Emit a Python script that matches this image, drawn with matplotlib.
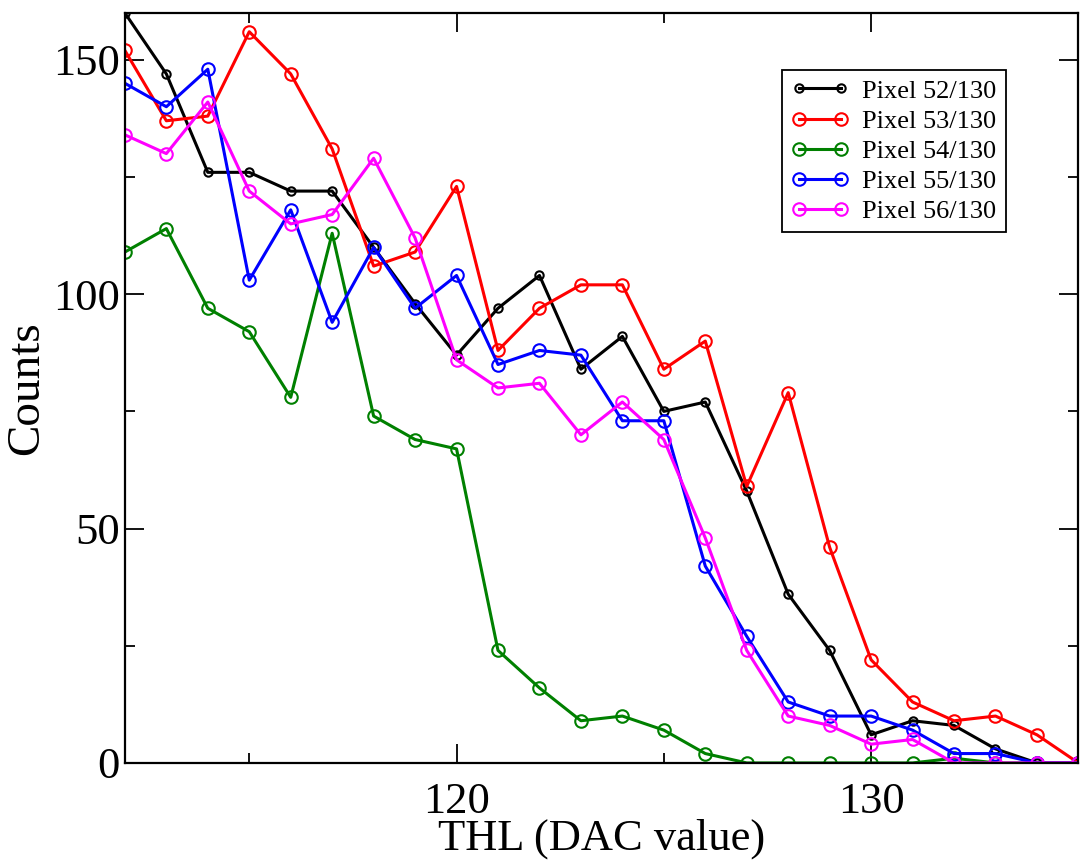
import numpy as np
import matplotlib
matplotlib.use("Agg")
import matplotlib.pyplot as plt
from matplotlib.ticker import MultipleLocator

# THL scan, one count per DAC step
thl = list(range(112, 136))

pix52 = [160, 147, 126, 126, 122, 122, 110, 98, 87, 97, 104, 84,
         91, 75, 77, 58, 36, 24, 6, 9, 8, 3, 0, 0]
pix53 = [152, 137, 138, 156, 147, 131, 106, 109, 123, 88, 97, 102,
         102, 84, 90, 59, 79, 46, 22, 13, 9, 10, 6, 0]
pix54 = [109, 114, 97, 92, 78, 113, 74, 69, 67, 24, 16, 9,
         10, 7, 2, 0, 0, 0, 0, 0, 1, 0, 0, 0]
pix55 = [145, 140, 148, 103, 118, 94, 110, 97, 104, 85, 88, 87,
         73, 73, 42, 27, 13, 10, 10, 7, 2, 2, 0, 0]
pix56 = [134, 130, 141, 122, 115, 117, 129, 112, 86, 80, 81, 70,
         77, 69, 48, 24, 10, 8, 4, 5, 0, 0, 0, 0]

labels = ["Pixel 52/130", "Pixel 53/130", "Pixel 54/130",
          "Pixel 55/130", "Pixel 56/130"]
colors = ["black", "red", "green", "blue", "magenta"]

plt.rcParams['font.family'] = ['Liberation Serif', 'DejaVu Serif']

fig = plt.figure(figsize=(10.86, 8.65), dpi=100)
ax = fig.add_axes([0.115, 0.118, 0.878, 0.867])

series = [pix52, pix53, pix54, pix55, pix56]
for i, (vals, lab, col) in enumerate(zip(series, labels, colors)):
    ms = 6 if i == 0 else 9
    ax.plot(thl, vals, color=col, lw=2.2, marker='o', ms=ms,
            mfc='none', mec=col, mew=1.5, label=lab)

ax.set_xlim(112, 135)
ax.set_ylim(0, 160)
ax.xaxis.set_major_locator(MultipleLocator(10))
ax.xaxis.set_minor_locator(MultipleLocator(5))
ax.yaxis.set_major_locator(MultipleLocator(50))
ax.yaxis.set_minor_locator(MultipleLocator(25))
ax.tick_params(which='both', direction='in', top=True, right=True,
               width=1.3, labelsize=32)
ax.tick_params(which='major', length=14)
ax.tick_params(which='minor', length=7)
ax.tick_params(axis='x', pad=14)
for s in ax.spines.values():
    s.set_linewidth(1.6)

ax.set_xlabel("THL (DAC value)", fontsize=32, labelpad=-3)
ax.set_ylabel("Counts", fontsize=34)
ax.yaxis.set_label_coords(-0.08, 0.5)

leg = ax.legend(loc='upper right', bbox_to_anchor=(0.924, 0.924),
                borderaxespad=0, fontsize=19, numpoints=2,
                handlelength=2.2, fancybox=False, framealpha=1,
                edgecolor='black', borderpad=0.35, labelspacing=0.25,
                handletextpad=0.5)
leg.get_frame().set_linewidth(1.3)

fig.savefig("out.png", dpi=100)
